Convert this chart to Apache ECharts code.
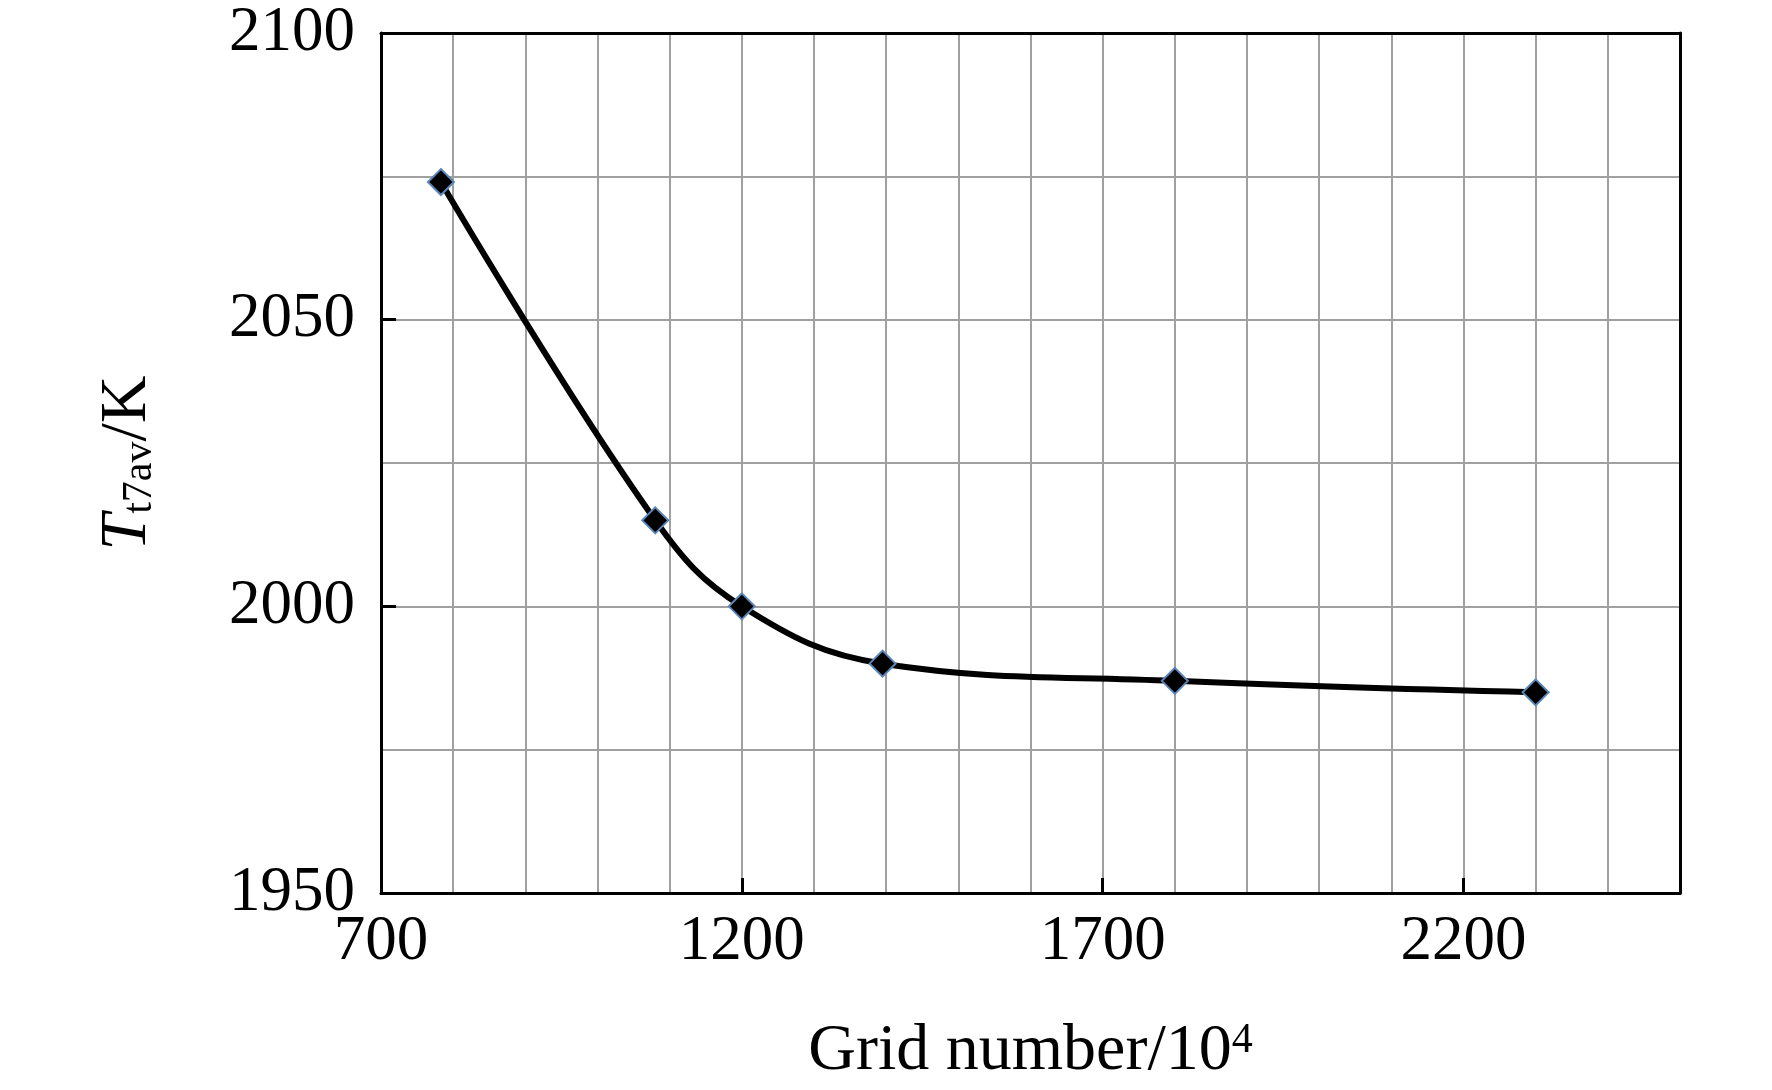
<!DOCTYPE html>
<html>
<head>
<meta charset="utf-8">
<script src="https://cdn.jsdelivr.net/npm/echarts@6/dist/echarts.min.js"></script>
<style>html,body{margin:0;padding:0;background:#fff}#c{width:1772px;height:1090px}</style>
</head>
<body>
<div id="c"></div>
<script>
var gridNumber = [783, 1080, 1200, 1395, 1800, 2300];
var temperature = [2074, 2015, 2000, 1990, 1987, 1985];
var xLabelValues = [700, 1200, 1700, 2200];
var xTickValues = [1200, 1700, 2200];
var yLabelValues = [1950, 2000, 2050, 2100];
var yTickValues = [2000, 2050];

var FONT = '"Liberation Serif", "Times New Roman", serif';
var chart = echarts.init(document.getElementById('c'), null, {renderer: 'canvas'});
var pts = gridNumber.map(function (x, i) { return [x, temperature[i]]; });
var plain = function (v) { return String(v); };
var gridLine = {show: true, lineStyle: {color: '#a0a0a0', width: 2}};
var frameLine = {show: true, onZero: false, lineStyle: {color: '#000', width: 3}};

chart.setOption({
  animation: false,
  backgroundColor: '#fff',
  grid: {left: 381, right: 92, top: 33, bottom: 193, show: false},
  xAxis: [{
    type: 'value', min: 700, max: 2500, interval: 100, position: 'bottom',
    name: '{a|Grid number/10}{s|4}',
    nameLocation: 'middle', nameGap: 126,
    nameTextStyle: {
      rich: {
        a: {fontFamily: FONT, fontSize: 66, color: '#000', lineHeight: 66, verticalAlign: 'bottom'},
        s: {fontFamily: FONT, fontSize: 42, color: '#000', lineHeight: 42, padding: [0, 0, 23, 0], verticalAlign: 'bottom'}
      }
    },
    axisLine: frameLine,
    axisTick: {show: true, inside: true, length: 15, customValues: xTickValues, lineStyle: {color: '#000', width: 3}},
    axisLabel: {show: true, customValues: xLabelValues, formatter: plain, margin: 18, fontFamily: FONT, fontSize: 63, color: '#000'},
    splitLine: {show: false},
    z: 4
  }, {
    type: 'value', min: 700, max: 2500, interval: 100, position: 'bottom',
    axisLine: {show: false}, axisTick: {show: false}, axisLabel: {show: false},
    splitLine: gridLine, z: 1
  }, {
    type: 'value', min: 700, max: 2500, interval: 100, position: 'top',
    axisLine: frameLine, axisTick: {show: false}, axisLabel: {show: false},
    splitLine: {show: false}, z: 4
  }],
  yAxis: [{
    type: 'value', min: 1950, max: 2100, interval: 25, position: 'left',
    name: '{t|T}{b|t7av}{k|/K}',
    nameLocation: 'middle', nameGap: 220, nameRotate: 90,
    nameTextStyle: {
      rich: {
        t: {fontFamily: FONT, fontStyle: 'italic', fontSize: 66, color: '#000', lineHeight: 66, verticalAlign: 'top'},
        k: {fontFamily: FONT, fontSize: 66, color: '#000', lineHeight: 66, verticalAlign: 'top'},
        b: {fontFamily: FONT, fontSize: 42, color: '#000', lineHeight: 42, padding: [38, 0, 0, 0], verticalAlign: 'bottom'}
      }
    },
    axisLine: frameLine,
    axisTick: {show: true, inside: true, length: 15, customValues: yTickValues, lineStyle: {color: '#000', width: 3}},
    axisLabel: {show: true, customValues: yLabelValues, formatter: plain, margin: 26, fontFamily: FONT, fontSize: 63, color: '#000'},
    splitLine: {show: false},
    z: 4
  }, {
    type: 'value', min: 1950, max: 2100, interval: 25, position: 'left',
    axisLine: {show: false}, axisTick: {show: false}, axisLabel: {show: false},
    splitLine: gridLine, z: 1
  }, {
    type: 'value', min: 1950, max: 2100, interval: 25, position: 'right',
    axisLine: frameLine, axisTick: {show: false}, axisLabel: {show: false},
    splitLine: {show: false}, z: 4
  }],
  series: [{
    type: 'line',
    xAxisIndex: 0, yAxisIndex: 0,
    data: pts,
    smooth: 0.4,
    symbol: 'diamond',
    symbolSize: 26,
    lineStyle: {color: '#000', width: 6},
    itemStyle: {color: '#000', borderColor: '#5b86b8', borderWidth: 2},
    z: 5
  }]
});
</script>
</body>
</html>
